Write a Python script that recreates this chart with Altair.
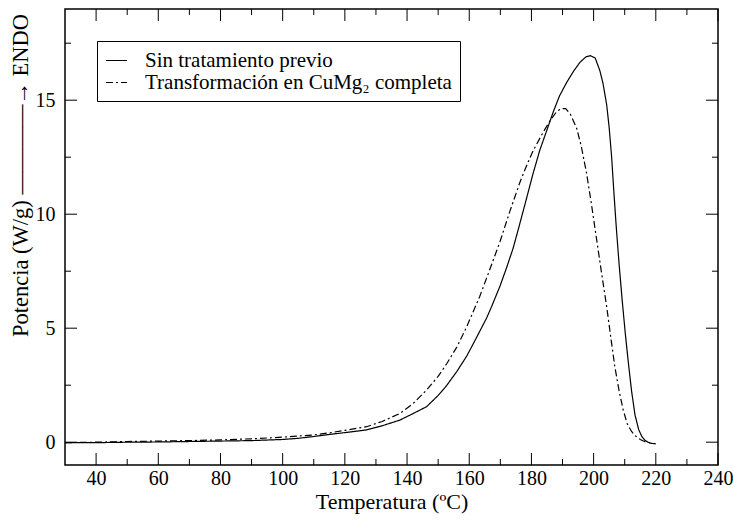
import altair as alt
import pandas as pd

# --- data ---
t_solid = [30, 31, 40, 50, 60, 70, 80, 90, 100, 105, 110, 115, 120, 127, 132, 137.7, 142,
           146.3, 150, 152.7, 156, 159.2, 162, 165.6, 167.2, 169.9, 172, 174.1, 176, 178.5,
           180.5, 182.7, 185, 187, 189, 191.3, 193.5, 195.6, 197.5, 199, 200.5, 202, 203,
           204.2, 205, 205.8, 206.5, 207.3, 208.2, 209.2, 210.2, 211.2, 212.2, 213.3, 214.5,
           215.5, 216.5, 217.5, 218.5, 220]
p_solid = [-0.02, -0.02, -0.02, 0.0, 0.01, 0.03, 0.05, 0.07, 0.12, 0.17, 0.25, 0.34, 0.42,
           0.54, 0.72, 0.97, 1.26, 1.56, 2.05, 2.48, 3.1, 3.78, 4.5, 5.45, 5.95, 6.85, 7.65,
           8.5, 9.45, 10.73, 11.77, 12.81, 13.7, 14.48, 15.18, 15.77, 16.26, 16.66, 16.9,
           16.95, 16.85, 16.3, 15.75, 14.8, 13.8, 12.5, 11.0, 9.4, 7.8, 6.2, 4.75, 3.45, 2.25,
           1.2, 0.55, 0.25, 0.08, 0.0, -0.05, -0.07]

t_dash = [30, 40, 50, 60, 70, 80, 90, 100, 110, 115, 120, 127, 132, 137.7, 142, 146.3, 150,
          152.7, 156, 159.2, 163.4, 166, 169.9, 173, 176.3, 178.5, 180.6, 183.8, 186, 188.1,
          189.6, 191, 192.5, 194.5, 196, 197.7, 199.3, 201, 202.6, 204.2, 205.5, 206.8, 208.2,
          209.5, 210.8, 212.2, 213.5, 215, 216.5, 218, 219]
p_dash = [-0.02, 0.0, 0.03, 0.05, 0.07, 0.1, 0.15, 0.22, 0.32, 0.41, 0.52, 0.68, 0.91, 1.26,
          1.7, 2.29, 2.89, 3.43, 4.17, 5.07, 6.4, 7.35, 8.8, 10.1, 11.4, 12.15, 12.8, 13.6,
          14.1, 14.5, 14.63, 14.63, 14.39, 13.79, 13.0, 11.82, 10.44, 8.86, 7.38, 5.95,
          4.62, 3.33, 2.25, 1.42, 0.81, 0.47, 0.27, 0.12, 0.02, -0.02, -0.02]

series = ["Sin tratamiento previo", "Transformación en CuMg₂ completa"]

x_major = [40, 60, 80, 100, 120, 140, 160, 180, 200, 220, 240]
x_minor = [50, 70, 90, 110, 130, 150, 170, 190, 210, 230]
y_major = [0, 5, 10, 15]
y_minor = [2.5, 7.5, 12.5, 17.5]

FONT = "Liberation Serif"
W, H = 653, 456
XD = [30, 240]
YD = [-1, 19]

df = pd.concat([
    pd.DataFrame({"T": t_solid, "P": p_solid, "serie": series[0], "ord": range(len(t_solid))}),
    pd.DataFrame({"T": t_dash, "P": p_dash, "serie": series[1], "ord": range(len(t_dash))}),
])

xs = alt.Scale(domain=XD, nice=False, zero=False)
ys = alt.Scale(domain=YD, nice=False, zero=False)

lines = alt.Chart(df).mark_line(color="black", strokeWidth=1.2).encode(
    x=alt.X("T:Q", scale=xs, axis=alt.Axis(
        title="Temperatura (ºC)", values=x_major, ticks=False, domain=False, grid=False,
        labelFlush=False, labelOverlap=False,
        labelFont=FONT, labelFontSize=20, labelColor="black", labelPadding=3,
        titleFont=FONT, titleFontSize=22, titleFontWeight="normal", titleColor="black",
        titlePadding=3)),
    y=alt.Y("P:Q", scale=ys, axis=alt.Axis(
        title="Potencia (W/g) ————→ ENDO", values=y_major, ticks=False, domain=False,
        grid=False, labelFlush=False, labelOverlap=False,
        labelFont=FONT, labelFontSize=20, labelColor="black", labelPadding=10,
        titleFont=FONT, titleFontSize=22.5, titleFontWeight="normal", titleColor="black",
        titleAngle=270, titleAlign="center", titleBaseline="middle",
        titleX=-45, titleY=166)),
    strokeDash=alt.StrokeDash("serie:N", scale=alt.Scale(domain=series, range=[[1, 0], [7, 3, 2, 3]]),
        legend=alt.Legend(title=None, orient="none", legendX=32, legendY=32,
                          symbolType="stroke", symbolSize=441, symbolStrokeColor="black",
                          symbolStrokeWidth=1.2, labelFont=FONT, labelFontSize=21,
                          labelColor="black", labelLimit=600, labelOffset=17,
                          strokeColor="black", fillColor="white", padding=8,
                          rowPadding=0)),
    order="ord:Q",
)

def ticks_x(vals, length, top):
    d = pd.DataFrame({"v": vals})
    if top:
        yy, yy2 = alt.value(0), alt.value(length)
    else:
        yy, yy2 = alt.value(H), alt.value(H - length)
    return alt.Chart(d).mark_rule(color="black", strokeWidth=1).encode(
        x=alt.X("v:Q", scale=xs), y=yy, y2=yy2)

def ticks_y(vals, length, right):
    d = pd.DataFrame({"v": vals})
    if right:
        xx, xx2 = alt.value(W), alt.value(W - length)
    else:
        xx, xx2 = alt.value(0), alt.value(length)
    return alt.Chart(d).mark_rule(color="black", strokeWidth=1).encode(
        y=alt.Y("v:Q", scale=ys), x=xx, x2=xx2)

chart = alt.layer(
    lines,
    ticks_x(x_major, 12, False), ticks_x(x_minor, 6, False),
    ticks_x(x_major, 12, True), ticks_x(x_minor, 6, True),
    ticks_y(y_major, 12, False), ticks_y(y_minor, 6, False),
    ticks_y(y_major, 12, True), ticks_y(y_minor, 6, True),
).properties(
    width=W, height=H,
    autosize=alt.AutoSizeParams(type="none"),
    padding={"left": 65, "top": 9, "right": 15, "bottom": 66},
    background="white",
).configure_view(stroke="black", strokeWidth=1.5)

chart.save("out.html", embed_options={"renderer": "svg", "actions": False})
